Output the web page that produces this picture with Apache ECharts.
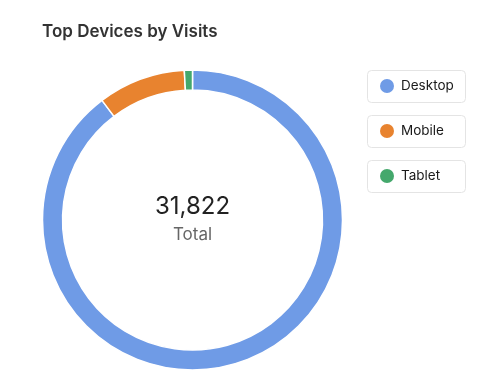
<!DOCTYPE html>
<html><head><meta charset="utf-8">
<script src="https://cdn.jsdelivr.net/npm/echarts@6/dist/echarts.min.js"></script>
<style>html,body{margin:0;padding:0;background:#fff}#c{width:500px;height:392px}</style>
</head><body><div id="c"></div>
<script>
const categories = ['Desktop', 'Mobile', 'Tablet'];
const visits = [28540, 3005, 277];
const colors = ['#6f9be6', '#e8832f', '#44a86c'];
const totalLabel = 'Total';
const titleText = 'Top Devices by Visits';

const total = visits.reduce((a, b) => a + b, 0);
const chart = echarts.init(document.getElementById('c'));
const boxTops = [70, 115, 160];
const font = 'Inter, "Liberation Sans", sans-serif';
chart.setOption({
  animation: false,
  color: colors,
  title: {
    text: titleText, left: 42, top: 23, padding: 0,
    textStyle: { fontSize: 17, fontWeight: 600, color: '#333', fontFamily: font }
  },
  legend: categories.map((c, i) => ({
    data: [c], left: 380, top: boxTops[i] + 9,
    icon: 'circle', itemWidth: 14, itemHeight: 14, itemGap: 0,
    padding: 0, selectedMode: false,
    itemStyle: { borderWidth: 0 },
    textStyle: { fontSize: 13.5, color: '#1a1a1a', fontFamily: font, padding: [0, 0, 0, 2] }
  })),
  graphic: [
    ...boxTops.map(t => ({
      type: 'rect', left: 367, top: t, z: -1,
      shape: { width: 98, height: 32, r: 4 },
      style: { fill: '#fff', stroke: '#e4e4e4', lineWidth: 1 }
    })),
    {
      type: 'text', x: 192.5, y: 207,
      style: { text: total.toLocaleString('en-US'), fontSize: 24, fill: '#222', fontFamily: font, align: 'center', verticalAlign: 'middle' }
    },
    {
      type: 'text', x: 192.5, y: 235,
      style: { text: totalLabel, fontSize: 17, fill: '#666', fontFamily: font, align: 'center', verticalAlign: 'middle' }
    }
  ],
  series: [{
    type: 'pie',
    center: [192.5, 220],
    radius: [130, 150],
    startAngle: 90,
    clockwise: true,
    label: { show: false },
    labelLine: { show: false },
    itemStyle: { borderColor: '#fff', borderWidth: 1.5 },
    data: categories.map((c, i) => ({ name: c, value: visits[i] }))
  }]
});
</script></body></html>
